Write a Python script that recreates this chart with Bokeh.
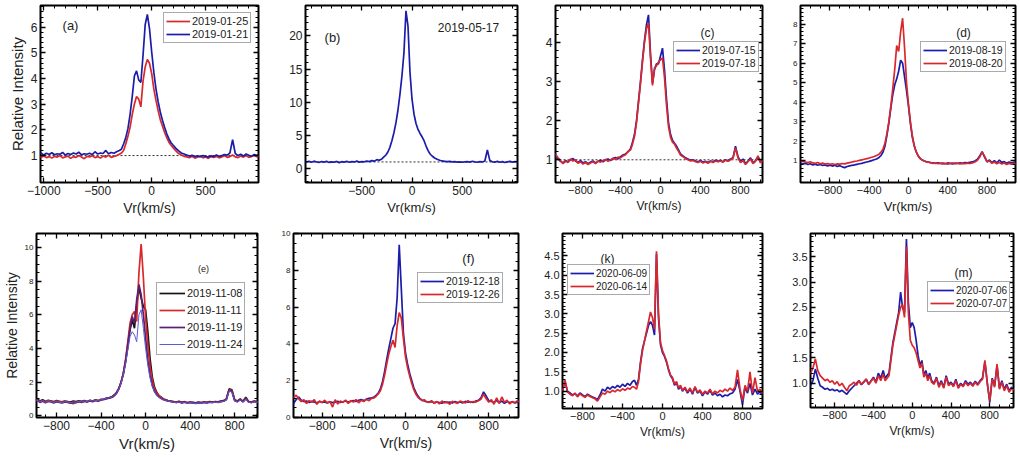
import numpy as np
from bokeh.plotting import figure
from bokeh.models import (Range1d, LinearAxis, FixedTicker, Legend, LegendItem,
                          Label, Span, NumeralTickFormatter)
from bokeh.layouts import row, column
from bokeh.embed import file_html
from bokeh.resources import INLINE

# ---------------- data (velocity grid, km/s) ----------------
V = [-1100, -1075, -1050, -1025, -1000, -975, -950, -925, -900, -875, -850, -825, -800,
     -775, -750, -725, -700, -675, -650, -625, -600, -575, -550, -525, -500, -475, -450,
     -425, -400, -375, -350, -325, -300,
     -280, -260, -240, -220, -200, -180, -160, -140, -120, -100, -80, -60, -40, -20, 0,
     20, 40, 60, 80, 100, 120, 140, 160, 180, 200,
     225, 250, 275, 300, 325, 350, 375, 400, 425, 450, 475, 500, 525, 550, 575, 600, 625,
     650, 675, 700, 725, 750, 775, 800, 825, 850, 875, 900, 925, 950, 975, 1000, 1025,
     1050, 1075, 1100]

# (a)
A_RED = [0.95, 0.97, 1.00, 0.93, 0.98, 0.92, 0.96, 0.90, 0.97, 0.94, 1.00, 0.91, 0.95, 0.98, 0.89, 0.96, 0.93, 1.00, 0.94, 0.88, 0.97, 0.95, 0.99, 0.92, 0.96, 0.90, 0.98, 0.94, 1.02, 0.93, 0.97, 1.00, 1.05,
         1.10, 1.20, 1.45, 1.75, 2.10, 2.60, 3.00, 3.30, 3.20, 2.90, 3.90, 4.45, 4.75, 4.60, 4.20, 3.60, 3.15, 2.75, 2.40, 2.15, 1.90, 1.70, 1.52, 1.40, 1.30,
         1.18, 1.08, 1.02, 0.97, 0.95, 0.92, 0.97, 0.90, 0.94, 0.98, 0.91, 0.95, 0.89, 0.96, 0.93, 0.97, 0.91, 0.95, 0.99, 0.93, 0.96, 1.02, 0.95, 0.92, 0.98, 0.94, 1.00, 0.93, 0.97, 1.01, 0.95, 0.99, 0.96, 0.98, 0.95, 0.97]
A_BLUE = [1.05, 1.08, 1.06, 1.10, 1.02, 1.09, 1.04, 1.11, 1.03, 1.07, 1.05, 1.12, 1.02, 1.08, 1.04, 1.10, 1.06, 1.13, 1.03, 1.07, 1.05, 1.09, 1.04, 1.15, 1.06, 1.10, 1.08, 1.20, 1.07, 1.12, 1.09, 1.15, 1.20,
          1.25, 1.45, 1.70, 2.05, 2.60, 3.30, 4.10, 4.30, 3.95, 3.85, 4.90, 6.10, 6.50, 5.95, 5.05, 4.25, 3.60, 3.10, 2.70, 2.38, 2.10, 1.85, 1.65, 1.50, 1.40,
          1.28, 1.18, 1.10, 1.06, 1.02, 0.98, 1.01, 0.96, 0.99, 0.95, 1.00, 0.97, 0.94, 0.99, 0.96, 1.02, 0.97, 1.00, 1.04, 1.02, 1.10, 1.62, 1.08, 1.00, 1.05, 0.98, 1.06, 1.01, 0.97, 1.04, 1.00, 1.06, 1.02, 1.05, 1.01, 1.04]
# (b)
B_BLUE = [1.05, 1.10, 0.98, 1.08, 0.95, 1.12, 1.00, 0.92, 1.06, 0.97, 1.10, 0.93, 1.02, 0.96, 1.08, 0.90, 1.04, 0.98, 1.10, 0.95, 1.05, 1.00, 1.12, 0.97, 1.06, 1.02, 1.15, 1.05, 1.20, 1.12, 1.35, 1.25, 1.45,
          1.75, 2.05, 2.50, 3.20, 4.20, 5.40, 6.90, 8.80, 11.2, 14.0, 17.5, 23.8, 21.5, 14.5, 10.5, 8.2, 6.8, 5.9, 5.3, 4.8, 4.2, 3.4, 2.7, 2.2, 1.9,
          1.60, 1.40, 1.25, 1.15, 1.10, 1.05, 1.08, 1.00, 1.04, 0.97, 1.02, 0.95, 1.00, 1.05, 0.98, 1.10, 1.02, 0.96, 1.04, 1.00, 1.15, 2.80, 1.20, 1.02, 0.98, 1.08, 0.95, 1.05, 0.92, 1.02, 1.08, 0.97, 1.04, 0.96, 1.02, 1.00]
# (c)
C_BLUE = [1.12, 1.10, 1.08, 1.02, 0.96, 0.92, 0.98, 0.95, 1.00, 1.03, 0.97, 0.93, 0.98, 0.92, 0.95, 0.90, 0.94, 0.97, 0.92, 0.96, 0.99, 0.95, 1.00, 1.02, 0.98, 1.03, 1.06, 1.02, 1.08, 1.12, 1.15, 1.20, 1.28,
          1.45, 1.65, 2.00, 2.50, 3.00, 3.55, 4.05, 4.45, 4.70, 3.70, 2.95, 3.30, 3.45, 3.45, 3.65, 3.85, 3.30, 2.55, 1.95, 1.65, 1.50, 1.42, 1.35, 1.25, 1.15,
          1.10, 1.05, 1.02, 0.99, 1.00, 0.97, 0.95, 0.98, 0.94, 0.96, 0.93, 0.97, 0.95, 0.99, 0.96, 0.98, 0.95, 1.00, 0.97, 1.02, 1.05, 1.35, 1.08, 0.95, 1.02, 0.90, 0.97, 1.05, 0.92, 0.98, 1.08, 0.94, 1.00, 0.96, 1.02, 0.98]
C_RED = [1.15, 1.12, 1.14, 1.05, 0.98, 0.90, 0.96, 0.93, 1.02, 0.97, 1.00, 0.91, 0.95, 0.89, 0.93, 0.88, 0.92, 0.95, 0.90, 0.97, 0.94, 0.98, 1.01, 0.96, 1.00, 1.04, 1.01, 1.07, 1.05, 1.10, 1.13, 1.22, 1.25,
         1.40, 1.60, 1.95, 2.45, 2.95, 3.50, 4.00, 4.35, 4.50, 3.60, 2.90, 3.35, 3.40, 3.50, 3.55, 3.60, 3.10, 2.40, 1.85, 1.58, 1.45, 1.40, 1.30, 1.22, 1.12,
         1.08, 1.03, 1.00, 0.97, 0.98, 0.95, 0.93, 0.96, 0.92, 0.95, 0.91, 0.96, 0.93, 0.97, 0.95, 0.97, 0.94, 0.99, 0.96, 1.00, 1.04, 1.30, 1.05, 0.93, 0.98, 0.88, 0.95, 1.02, 0.90, 0.96, 1.10, 0.92, 0.98, 0.94, 1.00, 0.96]
# (d)
D_BLUE = [0.90, 0.85, 0.88, 0.82, 0.86, 0.80, 0.84, 0.78, 0.82, 0.77, 0.80, 0.75, 0.79, 0.74, 0.78, 0.72, 0.76, 0.70, 0.66, 0.72, 0.75, 0.78, 0.80, 0.83, 0.86, 0.88, 0.92, 0.95, 0.98, 1.02, 1.06, 1.10, 1.18,
          1.28, 1.45, 1.75, 2.30, 2.95, 3.70, 4.40, 4.90, 5.20, 5.60, 6.15, 6.00, 5.30, 4.60, 3.80, 2.90, 2.20, 1.75, 1.45, 1.25, 1.12, 1.05, 1.00, 0.97, 0.95,
          0.92, 0.90, 0.88, 0.91, 0.87, 0.89, 0.86, 0.90, 0.88, 0.85, 0.89, 0.87, 0.90, 0.88, 0.92, 0.90, 0.93, 0.95, 1.00, 1.08, 1.25, 1.48, 1.20, 0.95, 1.05, 0.92, 1.02, 0.90, 1.05, 0.93, 0.97, 0.88, 0.95, 0.90, 0.93, 0.91]
D_RED = [1.00, 0.98, 0.95, 0.92, 0.96, 0.90, 0.88, 0.92, 0.86, 0.89, 0.84, 0.87, 0.83, 0.86, 0.82, 0.85, 0.84, 0.87, 0.85, 0.89, 0.92, 0.95, 0.98, 1.00, 1.03, 1.06, 1.09, 1.12, 1.15, 1.19, 1.23, 1.28, 1.35,
         1.45, 1.60, 1.90, 2.40, 3.00, 3.80, 4.70, 5.70, 6.90, 6.60, 7.60, 8.30, 6.80, 5.00, 3.90, 3.00, 2.25, 1.75, 1.45, 1.25, 1.12, 1.05, 1.00, 0.96, 0.94,
         0.92, 0.88, 0.90, 0.86, 0.89, 0.85, 0.88, 0.84, 0.87, 0.90, 0.86, 0.89, 0.85, 0.88, 0.86, 0.89, 0.87, 0.90, 0.95, 1.02, 1.20, 1.45, 1.25, 0.98, 1.00, 0.88, 0.95, 0.86, 0.93, 0.85, 0.90, 0.82, 0.88, 0.84, 0.87, 0.83]
# (e)
E_BLACK = [0.95, 0.98, 0.92, 0.96, 0.90, 1.02, 0.88, 0.95, 0.85, 0.92, 0.88, 0.84, 0.90, 0.86, 0.83, 0.88, 0.85, 0.82, 0.87, 0.84, 0.89, 0.86, 0.90, 0.85, 0.92, 0.88, 0.95, 0.90, 0.98, 1.00, 1.05, 1.08, 1.15,
           1.25, 1.40, 1.65, 2.00, 2.50, 3.20, 4.10, 5.10, 5.70, 5.20, 6.60, 7.60, 7.00, 6.50, 6.30, 5.00, 3.40, 2.30, 1.70, 1.40, 1.20, 1.10, 1.00, 0.95, 0.90,
           0.88, 0.85, 0.82, 0.86, 0.80, 0.84, 0.78, 0.82, 0.80, 0.77, 0.81, 0.79, 0.83, 0.80, 0.84, 0.82, 0.85, 0.83, 0.87, 0.90, 1.00, 1.60, 1.55, 0.95, 0.88, 1.00, 0.86, 1.10, 0.85, 0.82, 0.88, 0.84, 0.86, 0.83, 0.85, 0.84]
E_RED = [0.92, 0.95, 0.88, 0.93, 0.87, 0.96, 0.85, 0.90, 0.83, 0.89, 0.86, 0.82, 0.87, 0.84, 0.80, 0.86, 0.83, 0.78, 0.72, 0.80, 0.86, 0.83, 0.88, 0.84, 0.90, 0.86, 0.93, 0.89, 0.96, 0.98, 1.03, 1.06, 1.12,
         1.22, 1.38, 1.62, 2.00, 2.55, 3.35, 4.40, 5.50, 6.00, 6.20, 5.60, 8.50, 10.20, 8.20, 5.80, 4.20, 2.90, 2.10, 1.60, 1.35, 1.20, 1.08, 1.00, 0.94, 0.90,
         0.86, 0.83, 0.80, 0.84, 0.78, 0.82, 0.77, 0.80, 0.78, 0.75, 0.79, 0.77, 0.81, 0.78, 0.82, 0.80, 0.83, 0.81, 0.85, 0.88, 0.98, 1.55, 1.50, 0.92, 0.85, 0.98, 0.84, 1.05, 0.83, 0.80, 0.86, 0.82, 0.84, 0.81, 0.83, 0.82]
E_PURPLE = [0.88, 0.92, 0.85, 0.90, 0.83, 0.94, 0.80, 0.87, 0.78, 0.85, 0.82, 0.77, 0.84, 0.79, 0.76, 0.83, 0.80, 0.75, 0.81, 0.78, 0.84, 0.80, 0.86, 0.82, 0.89, 0.84, 0.91, 0.87, 0.95, 0.97, 1.02, 1.05, 1.10,
            1.20, 1.35, 1.60, 1.98, 2.50, 3.25, 4.25, 5.20, 5.90, 5.50, 6.90, 7.80, 7.20, 6.00, 4.60, 3.30, 2.40, 1.80, 1.45, 1.25, 1.12, 1.03, 0.96, 0.92, 0.88,
            0.85, 0.82, 0.79, 0.83, 0.77, 0.81, 0.76, 0.79, 0.77, 0.74, 0.78, 0.76, 0.80, 0.77, 0.81, 0.79, 0.82, 0.80, 0.84, 0.87, 0.96, 1.52, 1.45, 0.90, 0.84, 0.96, 0.83, 1.02, 0.82, 0.79, 0.85, 0.81, 0.83, 0.80, 0.82, 0.81]
E_LBLUE = [0.90, 0.94, 0.87, 1.00, 0.84, 0.92, 0.82, 0.89, 0.80, 0.88, 0.84, 0.79, 0.86, 0.81, 0.78, 0.85, 0.82, 0.77, 0.83, 0.80, 0.86, 0.82, 0.88, 0.84, 0.91, 0.86, 0.93, 0.89, 0.97, 0.99, 1.04, 1.07, 1.12,
           1.22, 1.36, 1.60, 1.95, 2.45, 3.10, 3.90, 4.70, 5.00, 4.80, 4.40, 6.00, 6.30, 5.20, 4.00, 3.00, 2.25, 1.75, 1.42, 1.22, 1.10, 1.02, 0.95, 0.91, 0.87,
           0.84, 0.81, 0.78, 0.82, 0.76, 0.80, 0.75, 0.78, 0.76, 0.73, 0.77, 0.75, 0.79, 0.76, 0.80, 0.78, 0.81, 0.79, 0.83, 0.86, 0.95, 1.48, 1.40, 0.88, 0.82, 0.94, 0.81, 1.00, 0.80, 0.77, 0.84, 0.80, 0.82, 0.79, 0.81, 0.80]
# (f)
F_BLUE = [0.70, 0.75, 0.95, 1.10, 0.92, 0.85, 0.88, 0.80, 0.86, 0.82, 0.78, 0.85, 0.80, 0.83, 0.77, 0.84, 0.79, 0.82, 0.86, 0.80, 0.84, 0.88, 0.82, 0.86, 0.90, 0.85, 0.92, 0.96, 0.90, 0.98, 1.02, 1.05, 1.10,
          1.20, 1.32, 1.55, 1.95, 2.50, 3.15, 3.75, 4.30, 4.85, 5.10, 6.50, 9.40, 7.00, 4.60, 3.50, 2.90, 2.40, 2.00, 1.60, 1.35, 1.15, 1.00, 0.92, 0.88, 0.85,
          0.82, 0.85, 0.78, 0.83, 0.80, 0.76, 0.84, 0.79, 0.82, 0.77, 0.85, 0.80, 0.83, 0.78, 0.86, 0.81, 0.84, 0.80, 0.88, 0.92, 1.05, 1.38, 1.15, 0.90, 0.85, 0.80, 0.92, 0.78, 0.88, 0.75, 0.85, 0.80, 0.83, 0.78, 0.82, 0.80]
F_RED = [0.95, 1.05, 1.20, 1.00, 0.85, 0.95, 0.75, 0.90, 0.82, 0.95, 0.70, 0.88, 0.80, 0.92, 0.78, 0.85, 0.55, 0.95, 0.72, 0.88, 0.80, 0.93, 0.75, 0.90, 0.82, 0.96, 0.78, 0.92, 0.85, 0.98, 0.90, 1.02, 1.05,
         1.15, 1.28, 1.45, 1.80, 2.30, 2.90, 3.45, 3.85, 4.20, 3.80, 5.00, 5.70, 5.40, 4.30, 3.30, 2.70, 2.25, 1.85, 1.50, 1.25, 1.08, 0.98, 0.90, 0.95, 0.85,
         0.80, 0.90, 0.75, 0.85, 0.72, 0.88, 0.78, 0.83, 0.70, 0.86, 0.80, 0.75, 0.88, 0.82, 0.78, 0.90, 0.80, 0.85, 0.82, 0.90, 0.98, 1.25, 1.00, 0.82, 0.95, 0.70, 1.05, 0.75, 1.10, 0.80, 0.92, 0.72, 0.85, 0.78, 0.90, 0.82]
# (k)
K_BLUE = [1.05, 1.10, 1.15, 1.08, 1.02, 1.25, 1.00, 0.95, 0.90, 0.93, 0.88, 0.95, 0.90, 0.86, 0.92, 0.88, 0.85, 0.82, 0.78, 0.90, 1.05, 1.00, 1.10, 1.05, 1.12, 1.08, 1.15, 1.10, 1.18, 1.12, 1.20, 1.15, 1.25,
          1.28, 1.15, 1.30, 1.75, 2.10, 2.30, 2.50, 2.70, 2.80, 2.70, 2.45, 4.55, 2.90, 2.20, 2.00, 1.90, 1.75, 1.55, 1.40, 1.32, 1.15, 1.22, 1.05, 1.12, 1.00,
          1.08, 0.95, 1.05, 0.92, 1.10, 0.95, 1.00, 0.88, 0.98, 0.92, 1.02, 0.90, 0.95, 0.88, 0.92, 0.85, 0.90, 0.88, 0.93, 0.95, 1.05, 1.30, 1.00, 0.65, 1.10, 0.95, 1.20, 0.90, 1.05, 0.92, 0.98, 0.90, 0.95, 0.92, 0.94, 0.93]
K_RED = [1.05, 1.12, 1.30, 1.15, 1.00, 1.28, 0.98, 0.92, 0.88, 0.95, 0.85, 0.93, 0.88, 0.84, 0.90, 0.86, 0.83, 0.80, 0.74, 0.85, 0.95, 0.92, 1.00, 0.96, 1.02, 0.98, 1.04, 1.00, 1.06, 1.02, 1.08, 1.05, 1.12,
         1.10, 1.05, 1.25, 1.70, 2.05, 2.30, 2.55, 2.80, 3.05, 2.90, 2.60, 4.62, 3.00, 2.25, 2.05, 1.92, 1.78, 1.58, 1.42, 1.35, 1.18, 1.25, 1.08, 1.15, 1.02,
         1.10, 0.98, 1.08, 0.95, 1.12, 0.97, 1.03, 0.92, 1.00, 0.95, 1.05, 0.93, 1.00, 0.95, 1.02, 0.98, 1.05, 1.00, 1.08, 1.02, 1.10, 1.55, 1.05, 0.75, 1.15, 1.00, 1.50, 0.95, 1.35, 1.00, 1.05, 0.95, 1.00, 0.97, 1.02, 0.98]
# (m)
M_BLUE = [0.95, 0.92, 0.95, 1.05, 1.28, 1.10, 0.95, 0.92, 0.88, 0.90, 0.86, 0.88, 0.85, 0.87, 0.83, 0.86, 0.82, 0.78, 0.85, 0.90, 0.95, 1.00, 1.05, 0.97, 1.02, 1.08, 0.98, 1.05, 1.12, 1.02, 1.20, 1.10, 1.25,
          1.10, 1.15, 1.20, 1.50, 1.80, 2.00, 2.20, 2.40, 2.80, 2.50, 2.40, 3.85, 2.60, 2.10, 2.20, 2.10, 1.85, 1.55, 1.35, 1.45, 1.15, 1.25, 1.10, 1.20, 1.05,
          1.00, 1.12, 0.95, 1.05, 0.92, 1.15, 0.98, 1.02, 0.95, 1.08, 0.92, 1.00, 0.95, 1.05, 0.98, 1.02, 0.96, 1.04, 0.98, 1.05, 1.10, 1.42, 1.00, 0.62, 1.10, 0.95, 1.35, 0.90, 1.05, 0.88, 0.98, 0.85, 0.92, 0.88, 0.90, 0.88]
M_RED = [1.10, 1.15, 1.20, 1.30, 1.48, 1.25, 1.15, 1.10, 1.05, 1.08, 1.02, 1.05, 0.98, 1.03, 0.95, 1.00, 0.92, 0.85, 0.95, 0.98, 1.02, 0.96, 1.05, 0.98, 1.03, 1.08, 0.97, 1.04, 1.10, 1.00, 1.15, 1.05, 1.18,
         1.05, 1.10, 1.15, 1.45, 1.75, 1.95, 2.15, 2.35, 2.50, 2.55, 2.30, 3.70, 2.40, 1.85, 1.75, 1.70, 1.60, 1.45, 1.30, 1.40, 1.12, 1.20, 1.05, 1.15, 1.02,
         0.98, 1.10, 0.92, 1.02, 0.90, 1.12, 0.95, 1.00, 0.93, 1.05, 0.90, 0.98, 0.93, 1.02, 0.95, 1.00, 0.94, 1.02, 0.96, 1.03, 1.08, 1.45, 0.98, 0.65, 1.08, 0.92, 1.38, 0.88, 1.02, 0.85, 0.95, 0.82, 0.90, 0.86, 0.88, 0.86]

for _name, _s in [("A_RED", A_RED), ("A_BLUE", A_BLUE), ("B_BLUE", B_BLUE), ("C_BLUE", C_BLUE),
                  ("C_RED", C_RED), ("D_BLUE", D_BLUE), ("D_RED", D_RED), ("E_BLACK", E_BLACK),
                  ("E_RED", E_RED), ("E_PURPLE", E_PURPLE), ("E_LBLUE", E_LBLUE), ("F_BLUE", F_BLUE),
                  ("F_RED", F_RED), ("K_BLUE", K_BLUE), ("K_RED", K_RED), ("M_BLUE", M_BLUE), ("M_RED", M_RED)]:
    assert len(_s) == len(V), (_name, len(_s), len(V))

# tick values
XT_A = [-1000, -500, 0, 500]
XT_B = [-500, 0, 500]
XT_400 = [-800, -400, 0, 400, 800]
YT_A = [1, 2, 3, 4, 5, 6]
YT_B = [0, 5, 10, 15, 20]
YT_C = [1, 2, 3, 4]
YT_D = [1, 2, 3, 4, 5, 6, 7, 8]
YT_E = [0, 2, 4, 6, 8, 10]
YT_K = [1.0, 1.5, 2.0, 2.5, 3.0, 3.5, 4.0, 4.5]
YT_M = [1.0, 1.5, 2.0, 2.5, 3.0, 3.5]

# ---------------- styling ----------------
FONT = "Liberation Sans"
RED = "#d8282c"
BLUE = "#1c1caa"
BLACK = "#151515"
PURPLE = "#5a1f6e"
LBLUE = "#5b5bd6"
TXT = "#222222"


def mrange(a, b, step):
    return [round(float(v), 3) for v in np.arange(a, b + step / 2, step)]


def style_axis(ax, ticks, minor, fs=None, fmt=None, label=None, label_fs=None, hidden=False):
    ax.ticker = FixedTicker(ticks=ticks, minor_ticks=minor)
    ax.axis_line_color = None
    ax.major_tick_in = 5
    ax.major_tick_out = 0
    ax.minor_tick_in = 3
    ax.minor_tick_out = 0
    ax.major_tick_line_color = "black"
    ax.minor_tick_line_color = "black"
    ax.major_tick_line_width = 1.3
    ax.minor_tick_line_width = 1.0
    if hidden:
        ax.major_label_text_color = None
        ax.major_label_text_font_size = "0px"
        ax.major_label_standoff = 0
        ax.axis_label = None
        return
    ax.major_label_text_font = FONT
    ax.major_label_text_font_size = fs
    ax.major_label_text_color = TXT
    ax.major_label_standoff = 3
    if fmt:
        ax.formatter = NumeralTickFormatter(format=fmt)
    if label:
        ax.axis_label = label
        ax.axis_label_text_font = FONT
        ax.axis_label_text_font_size = label_fs
        ax.axis_label_text_font_style = "normal"
        ax.axis_label_text_color = TXT
        ax.axis_label_standoff = 2


def panel(cfg):
    p = figure(width=cfg["w"], height=cfg["h"],
               x_range=Range1d(*cfg["xr"]), y_range=Range1d(*cfg["yr"]),
               output_backend="svg", toolbar_location=None,
               min_border_left=cfg["bl"], min_border_right=cfg["br"],
               min_border_top=cfg["bt"], min_border_bottom=cfg["bb"])
    p.xgrid.grid_line_color = None
    p.ygrid.grid_line_color = None
    p.outline_line_color = "black"
    p.outline_line_width = 2
    p.background_fill_color = "white"
    p.border_fill_color = "white"
    style_axis(p.xaxis[0], cfg["xt"], cfg["xm"], fs=cfg["xfs"], label="Vr(km/s)", label_fs=cfg["xlfs"])
    style_axis(p.yaxis[0], cfg["yt"], cfg["ym"], fs=cfg["yfs"], fmt=cfg.get("yfmt"),
               label=cfg.get("ylabel"), label_fs=cfg.get("ylfs"))
    top = LinearAxis()
    style_axis(top, cfg["xt"], cfg["xm"], hidden=True)
    p.add_layout(top, "above")
    right = LinearAxis()
    style_axis(right, cfg["yt"], cfg["ym"], hidden=True)
    p.add_layout(right, "right")
    if cfg.get("baseline"):
        p.add_layout(Span(location=1, dimension="width", line_color="#333333",
                          line_dash="2 2", line_width=1, level="underlay"))
    return p


def add_legend(p, items, loc, fs="10.5px", lh=12, glyph_w=24):
    leg = Legend(items=[LegendItem(label=l, renderers=[r]) for l, r in items],
                 location=loc, label_text_font=FONT, label_text_font_size=fs,
                 label_text_color=TXT, glyph_width=glyph_w, glyph_height=lh, label_height=lh,
                 label_standoff=2, padding=2, spacing=1, margin=0,
                 border_line_color="#555555", border_line_width=1,
                 background_fill_color="white", background_fill_alpha=1)
    p.add_layout(leg)


def add_text(p, x, y, text, fs):
    p.add_layout(Label(x=x, y=y, x_units="screen", y_units="screen", text=text,
                       text_font=FONT, text_font_size=fs, text_color=TXT,
                       text_align="center", text_baseline="middle"))


LW = 1.7

# row 1: height 222, frames 5..182
# (a)
pa = panel(dict(w=272, h=222, bl=40, br=14, bt=5, bb=40, xr=(-1030, 990), yr=(-0.05, 6.85),
                xt=XT_A, xm=mrange(-1000, 900, 100), yt=YT_A, ym=mrange(0.2, 6.8, 0.2),
                xfs="12px", yfs="12px", xlfs="14px", ylabel="Relative Intensity", ylfs="15px",
                baseline=True))
ra1 = pa.line(V, A_RED, line_color=RED, line_width=LW)
ra2 = pa.line(V, A_BLUE, line_color=BLUE, line_width=LW)
add_legend(pa, [("2019-01-25", ra1), ("2019-01-21", ra2)], (123, 139), fs="11px")
add_text(pa, 30, 157, "(a)", "13px")

# (b)
pb = panel(dict(w=258, h=222, bl=33, br=13, bt=5, bb=40, xr=(-1060, 1050), yr=(-2.1, 24.6),
                xt=XT_B, xm=mrange(-1000, 1000, 100), yt=YT_B, ym=mrange(-2, 24, 1),
                xfs="12px", yfs="12px", xlfs="13px", baseline=True))
pb.line(V, B_BLUE, line_color=BLUE, line_width=LW)
add_text(pb, 27, 145, "(b)", "13px")
add_text(pb, 163, 155, "2019-05-17", "12px")

# (c)
pc = panel(dict(w=250, h=222, bl=25, br=18, bt=5, bb=40, xr=(-1050, 1020), yr=(0.42, 4.94),
                xt=XT_400, xm=mrange(-1000, 1000, 100), yt=YT_C, ym=mrange(0.6, 4.8, 0.2),
                xfs="11px", yfs="12px", xlfs="12px", baseline=True))
rc1 = pc.line(V, C_BLUE, line_color=BLUE, line_width=LW)
rc2 = pc.line(V, C_RED, line_color=RED, line_width=LW)
add_legend(pc, [("2019-07-15", rc1), ("2019-07-18", rc2)], (118, 110))
add_text(pc, 152, 150, "(c)", "12px")

# (d)
pd_ = panel(dict(w=240, h=222, bl=20, br=5, bt=5, bb=40, xr=(-1100, 1090), yr=(-0.1, 8.95),
                 xt=XT_400, xm=mrange(-1100, 1000, 100), yt=YT_D, ym=mrange(0.2, 8.8, 0.2),
                 xfs="11px", yfs="8px", xlfs="13px"))
rd1 = pd_.line(V, D_BLUE, line_color=BLUE, line_width=LW)
rd2 = pd_.line(V, D_RED, line_color=RED, line_width=LW)
add_legend(pd_, [("2019-08-19", rd1), ("2019-08-20", rd2)], (120, 110))
add_text(pd_, 163, 150, "(d)", "12px")

# row 2: starts at 222; common top border 11, bottom border 40
# (e)
pe = panel(dict(w=270, h=235, bl=33, br=13, bt=11, bb=40, xr=(-980, 1005), yr=(-0.1, 10.83),
                xt=XT_400, xm=mrange(-900, 1000, 100), yt=YT_E, ym=mrange(0, 10.5, 0.5),
                xfs="12px", yfs="8px", xlfs="15px", ylabel="Relative Intensity", ylfs="14px"))
re1 = pe.line(V, E_BLACK, line_color=BLACK, line_width=LW)
re2 = pe.line(V, E_RED, line_color=RED, line_width=LW)
re3 = pe.line(V, E_PURPLE, line_color=PURPLE, line_width=LW)
re4 = pe.line(V, E_LBLUE, line_color=LBLUE, line_width=1.0)
add_legend(pe, [("2019-11-08", re1), ("2019-11-11", re2), ("2019-11-19", re3), ("2019-11-24", re4)],
           (120, 62), fs="11px", lh=16, glyph_w=26)
add_text(pe, 167, 149, "(e)", "9px")

# (f)
pf = panel(dict(w=260, h=235, bl=23, br=12, bt=11, bb=40, xr=(-1075, 1085), yr=(-0.02, 10.02),
                xt=XT_400, xm=mrange(-1000, 1000, 100), yt=YT_E, ym=mrange(0, 10, 0.5),
                xfs="12px", yfs="8px", xlfs="14px"))
rf1 = pf.line(V, F_BLUE, line_color=BLUE, line_width=LW)
rf2 = pf.line(V, F_RED, line_color=RED, line_width=LW)
add_legend(pf, [("2019-12-18", rf1), ("2019-12-26", rf2)], (124, 114))
add_text(pf, 175, 159, "(f)", "13px")

# (k)
pk = panel(dict(w=250, h=226, bl=32, br=18, bt=11, bb=40, xr=(-1000, 1000), yr=(0.55, 5.08),
                xt=XT_400, xm=mrange(-1000, 1000, 100), yt=YT_K, ym=mrange(0.6, 5.0, 0.1),
                xfs="11px", yfs="11px", xlfs="12px", yfmt="0.0"))
rk1 = pk.line(V, K_BLUE, line_color=BLUE, line_width=LW)
rk2 = pk.line(V, K_RED, line_color=RED, line_width=LW)
add_legend(pk, [("2020-06-09", rk1), ("2020-06-14", rk2)], (5, 113), fs="10px")
add_text(pk, 45, 150, "(k)", "12px")

# (m)
pm = panel(dict(w=240, h=225, bl=30, br=7, bt=11, bb=40, xr=(-1050, 1045), yr=(0.52, 3.96),
                xt=XT_400, xm=mrange(-1000, 1000, 100), yt=YT_M, ym=mrange(0.6, 3.9, 0.1),
                xfs="11px", yfs="11px", xlfs="12px", yfmt="0.0"))
rm1 = pm.line(V, M_BLUE, line_color=BLUE, line_width=LW)
rm2 = pm.line(V, M_RED, line_color=RED, line_width=LW)
add_legend(pm, [("2020-07-06", rm1), ("2020-07-07", rm2)], (117, 95), fs="10px")
add_text(pm, 153, 135, "(m)", "12px")

layout = column(row(pa, pb, pc, pd_), row(pe, pf, pk, pm))
open("out.html", "w").write(file_html(layout, INLINE))
